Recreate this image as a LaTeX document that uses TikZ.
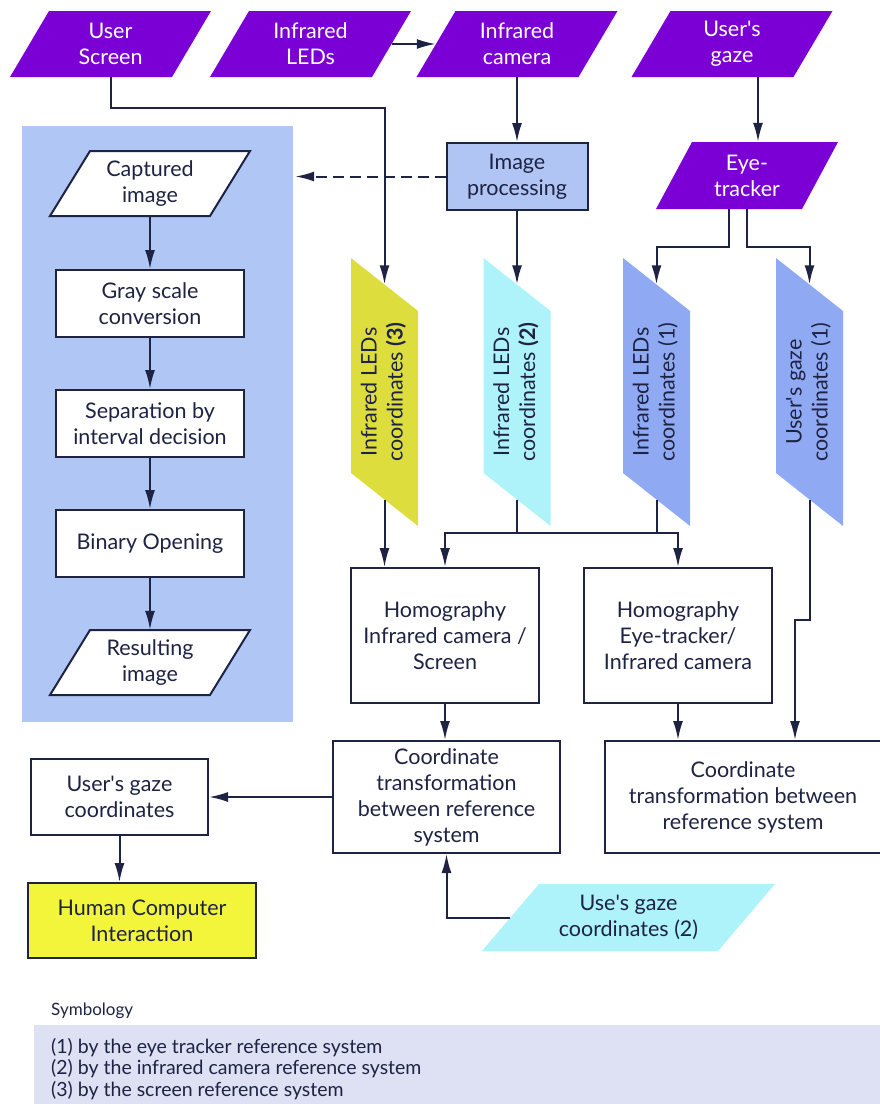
\documentclass[tikz,border=0pt]{standalone}
\usepackage{fontspec}
\setmainfont{Lato}
\usetikzlibrary{arrows.meta, calc}

\definecolor{inpurple}{RGB}{122,0,214}
\definecolor{panelblue}{RGB}{176,198,245}
\definecolor{procblue}{RGB}{176,197,243}
\definecolor{olivey}{RGB}{222,221,62}
\definecolor{lightcyan}{RGB}{173,243,249}
\definecolor{periwinkle}{RGB}{143,170,243}
\definecolor{hciyellow}{RGB}{242,245,58}
\definecolor{legendbg}{RGB}{222,225,243}
\definecolor{ink}{RGB}{30,35,68}

% straight apostrophe
\newcommand{\apos}{\textquotesingle}

\begin{document}
\begin{tikzpicture}[x=1pt, y=-1pt,
    every node/.style={font=\fontsize{21.5}{26}\selectfont, align=center, inner sep=0pt, text=ink},
    arr/.style={-{Latex[length=19pt, width=10pt]}, line width=2pt, draw=ink},
    dasharr/.style={arr, dash pattern=on 11pt off 6pt},
    link/.style={line width=2pt, draw=ink},
    box/.style={draw=ink, line width=2pt, fill=white},
    intext/.style={text=white, minimum width=162pt, minimum height=66pt},
    vtext/.style={minimum width=67pt, minimum height=215pt}]

  \useasboundingbox (0,0) rectangle (880,1104);

  % input parallelograms (top row)
  \fill[inpurple] (49,11) -- (211,11) -- (172,77) -- (10,77) -- cycle;
  \fill[inpurple] (249,11) -- (411,11) -- (372,77) -- (210,77) -- cycle;
  \fill[inpurple] (455.5,11) -- (617.5,11) -- (578.5,77) -- (416.5,77) -- cycle;
  \fill[inpurple] (670.5,11) -- (832.5,11) -- (793.5,77) -- (631.5,77) -- cycle;
  \node[intext] (screen) at (110.5,44) {User\\Screen};
  \node[intext] (leds)   at (310.5,44) {Infrared\\LEDs};
  \node[intext] (camera) at (517,44)   {Infrared\\camera};
  \node[intext] (gaze)   at (732,44)   {User\apos s\\gaze};

  % eye-tracker
  \fill[inpurple] (692,142) -- (838,142) -- (802,209) -- (656,209) -- cycle;
  \node[text=white, minimum width=146pt, minimum height=67pt] (eye) at (747,175.5) {Eye-\\tracker};

  % image processing panel
  \node[fill=panelblue, minimum width=271pt, minimum height=596pt] (panel) at (157.5,424) {};
  \filldraw[fill=white, draw=ink, line width=2pt] (90,151) -- (250,151) -- (210,216) -- (50,216) -- cycle;
  \node[minimum width=160pt, minimum height=65pt] (capt) at (150,183.5) {Captured\\image};
  \node[box, minimum width=188pt, minimum height=67pt] (gray) at (150,303.5) {Gray scale\\conversion};
  \node[box, minimum width=188pt, minimum height=67pt] (sep)  at (150,423.5) {Separation by\\interval decision};
  \node[box, minimum width=188pt, minimum height=67pt] (bin)  at (150,543.5) {Binary Opening};
  \filldraw[fill=white, draw=ink, line width=2pt] (90,630) -- (250,630) -- (210,695) -- (50,695) -- cycle;
  \node[minimum width=160pt, minimum height=65pt] (result) at (150,662.5) {Resulting\\image};

  \draw[arr] (capt.south) -- (gray.north);
  \draw[arr] (gray.south) -- (sep.north);
  \draw[arr] (sep.south) -- (bin.north);
  \draw[arr] (bin.south) -- (result.north);

  \node[box, fill=procblue, minimum width=141pt, minimum height=67pt] (proc) at (517,176.5) {Image\\processing};

  % coordinate sets (vertical)
  \fill[olivey]     (351,258) -- (418,311) -- (418,526) -- (351,473) -- cycle;
  \fill[lightcyan]  (483.5,258) -- (550.5,311) -- (550.5,526) -- (483.5,473) -- cycle;
  \fill[periwinkle] (623,258) -- (690,311) -- (690,526) -- (623,473) -- cycle;
  \fill[periwinkle] (776,258) -- (843,311) -- (843,526) -- (776,473) -- cycle;
  \node[vtext] (c3) at (384.5,392)
    {\rotatebox{90}{\begin{tabular}{@{}c@{}}Infrared LEDs\\coordinates \textbf{(3)}\end{tabular}}};
  \node[vtext] (c2) at (517,392)
    {\rotatebox{90}{\begin{tabular}{@{}c@{}}Infrared LEDs\\coordinates \textbf{(2)}\end{tabular}}};
  \node[vtext] (c1) at (656.5,392)
    {\rotatebox{90}{\begin{tabular}{@{}c@{}}Infrared LEDs\\coordinates (1)\end{tabular}}};
  \node[vtext] (g1) at (809.5,392)
    {\rotatebox{90}{\begin{tabular}{@{}c@{}}User\apos s gaze\\coordinates (1)\end{tabular}}};

  % homographies and transformations
  \node[box, minimum width=188pt, minimum height=135pt] (h1) at (445,635.5)
    {Homography\\Infrared camera /\\Screen};
  \node[box, minimum width=188pt, minimum height=135pt] (h2) at (678,635.5)
    {Homography\\Eye-tracker/\\Infrared camera};
  \node[box, minimum width=227pt, minimum height=112pt] (t1) at (446.5,797)
    {Coordinate\\transformation\\between reference\\system};
  \node[box, minimum width=276pt, minimum height=112pt] (t2) at (743,797)
    {Coordinate\\transformation between\\reference system};
  \node[box, minimum width=177pt, minimum height=76pt] (ugc) at (119.5,797)
    {User\apos s gaze\\coordinates};
  \node[box, fill=hciyellow, minimum width=228pt, minimum height=75pt] (hci) at (142,920.5)
    {Human Computer\\Interaction};

  \fill[lightcyan] (539,884) -- (775,884) -- (718,951) -- (482,951) -- cycle;
  \node[minimum width=236pt, minimum height=67pt] (u2) at (628.5,917.5) {Use\apos s gaze\\coordinates (2)};

  % connectors
  \draw[arr] (leds.east) -- (camera.west);
  \draw[arr] (camera.south) -- (proc.north);
  \draw[arr] ([xshift=26pt]gaze.south) -- ([xshift=11pt]eye.north);
  \draw[dasharr] (proc.west) -- ([xshift=2pt]proc.west -| panel.east);
  \draw[arr] (screen.south) -- ++(0,31) -| (c3.north);
  \draw[arr] (proc.south) -- (c2.north);
  \draw[arr] ([xshift=-18pt]eye.south) -- ++(0,38) -| (c1.north);
  \draw[arr] (eye.south) -- ++(0,38) -| (g1.north);

  \draw[arr] (c3.south) -- (c3.south |- h1.north);
  \draw[arr] (c2.south) -- ++(0,33.5) -| (h1.north);
  \draw[arr] (c2.south) -- ++(0,33.5) -| (h2.north);
  \draw[link] (c1.south) -- ++(0,33.5);
  \coordinate (jog) at (795,620);
  \draw[arr] (g1.south) |- (jog) -- (jog |- t2.north);

  \draw[arr] (h1.south) -- (h1.south |- t1.north);
  \draw[arr] (h2.south) -- (h2.south |- t2.north);
  \draw[arr] (t1.west) -- (ugc.east);
  \draw[arr] (ugc.south) -- (ugc.south |- hci.north);
  \draw[arr] (u2.west) -| (t1.south);

  % legend
  \node[anchor=west, font=\fontsize{17}{20}\selectfont] (symb) at (51,1011) {Symbology};
  \fill[legendbg] (34,1025) rectangle (880,1104);
  \node[anchor=north west, align=left, font=\fontsize{19.5}{21.5}\selectfont] (legend) at (51,1038)
    {(1) by the eye tracker reference system\\
     (2) by the infrared camera reference system\\
     (3) by the screen reference system};
\end{tikzpicture}
\end{document}
